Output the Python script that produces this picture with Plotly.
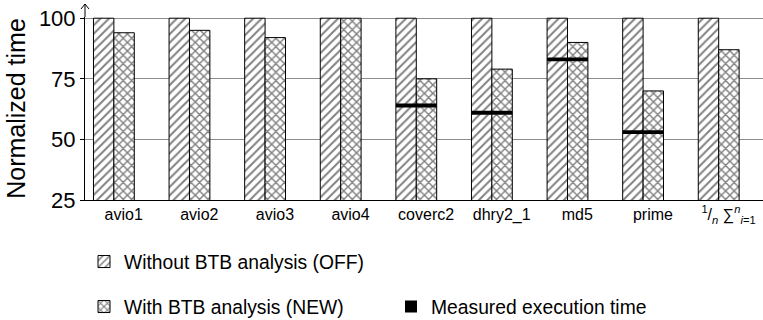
import plotly.graph_objects as go

categories = ["avio1", "avio2", "avio3", "avio4", "coverc2", "dhry2_1", "md5", "prime",
              "<sup>1</sup>/<sub><i>n</i></sub> ∑<sup><i>n</i></sup><sub><i>i</i>=1</sub>"]
off_values = [100, 100, 100, 100, 100, 100, 100, 100, 100]
new_values = [94, 95, 92, 100, 75, 79, 90, 70, 87]
measured_values = [None, None, None, None, 64, 61, 83, 53, None]
y_ticks = [25, 50, 75, 100]

FONT = "Liberation Sans, Arial, Helvetica, sans-serif"
x = list(range(len(categories)))
BW = 0.27
SHIFT = -0.13  # bar pair centre relative to tick
THICK = 1.6    # thickness of measured marker (data units)

W, H = 763, 320
ML, MR, MT, MB = 85, 0, 17, 120
PW, PH = W - ML - MR, H - MT - MB

fig = go.Figure()
fig.add_trace(go.Bar(
    x=x, y=off_values, width=BW, offset=SHIFT - BW,
    name="Without BTB analysis (OFF)", legend="legend",
    marker=dict(color="white", line=dict(color="black", width=1),
                pattern=dict(shape="/", fgcolor="black", bgcolor="white", size=6, solidity=0.32)),
))
fig.add_trace(go.Bar(
    x=x, y=new_values, width=BW, offset=SHIFT,
    name="With BTB analysis (NEW)", legend="legend2",
    marker=dict(color="white", line=dict(color="black", width=1),
                pattern=dict(shape="x", fgcolor="black", bgcolor="white", size=6, solidity=0.42)),
))
mx = [xi for xi, m in zip(x, measured_values) if m is not None]
mv = [m for m in measured_values if m is not None]
fig.add_trace(go.Bar(
    x=mx, y=[THICK] * len(mv), base=[m - THICK / 2 for m in mv],
    width=2 * BW, offset=SHIFT - BW,
    name="Measured execution time", legend="legend3",
    marker=dict(color="black", line=dict(width=0)),
))

leg_common = dict(xref="container", yref="container", orientation="h",
                  xanchor="left", yanchor="middle", font=dict(size=19.3, family=FONT),
                  bgcolor="rgba(0,0,0,0)")

fig.update_layout(
    width=W, height=H, autosize=False,
    margin=dict(l=ML, r=MR, t=MT, b=MB, pad=0),
    paper_bgcolor="white", plot_bgcolor="white",
    barmode="overlay",
    font=dict(family=FONT, color="black"),
    xaxis=dict(range=[-0.512, 8.456], tickmode="array", tickvals=x, ticktext=categories,
               showline=True, linecolor="black", linewidth=1, showgrid=False,
               ticks="", tickfont=dict(size=16, family=FONT), zeroline=False),
    yaxis=dict(range=[25, 100.5], tickmode="array", tickvals=y_ticks, showgrid=True,
               gridcolor="#8c8c8c", gridwidth=1,
               showline=True, linecolor="black", linewidth=1, ticks="outside", ticklen=4,
               tickcolor="black", tickfont=dict(size=22, family=FONT), zeroline=False,
               title=dict(text="Normalized time", font=dict(size=25, family=FONT), standoff=6)),
    legend=dict(x=84 / W, y=1 - 262 / H, **leg_common),
    legend2=dict(x=84 / W, y=1 - 307 / H, **leg_common),
    legend3=dict(x=391 / W, y=1 - 307 / H, **leg_common),
    showlegend=True,
)

# axis arrow at the top of the y axis (paper coordinates)
tip = 1 + 13 / PH
arm_y = 1 + 8 / PH
arm_x = 4 / PW
fig.add_shape(type="path", xref="paper", yref="paper",
              path=f"M0,1 L0,{tip} M{-arm_x},{arm_y} L0,{tip} L{arm_x},{arm_y}",
              line=dict(color="black", width=1))

fig.write_html("out.html")
